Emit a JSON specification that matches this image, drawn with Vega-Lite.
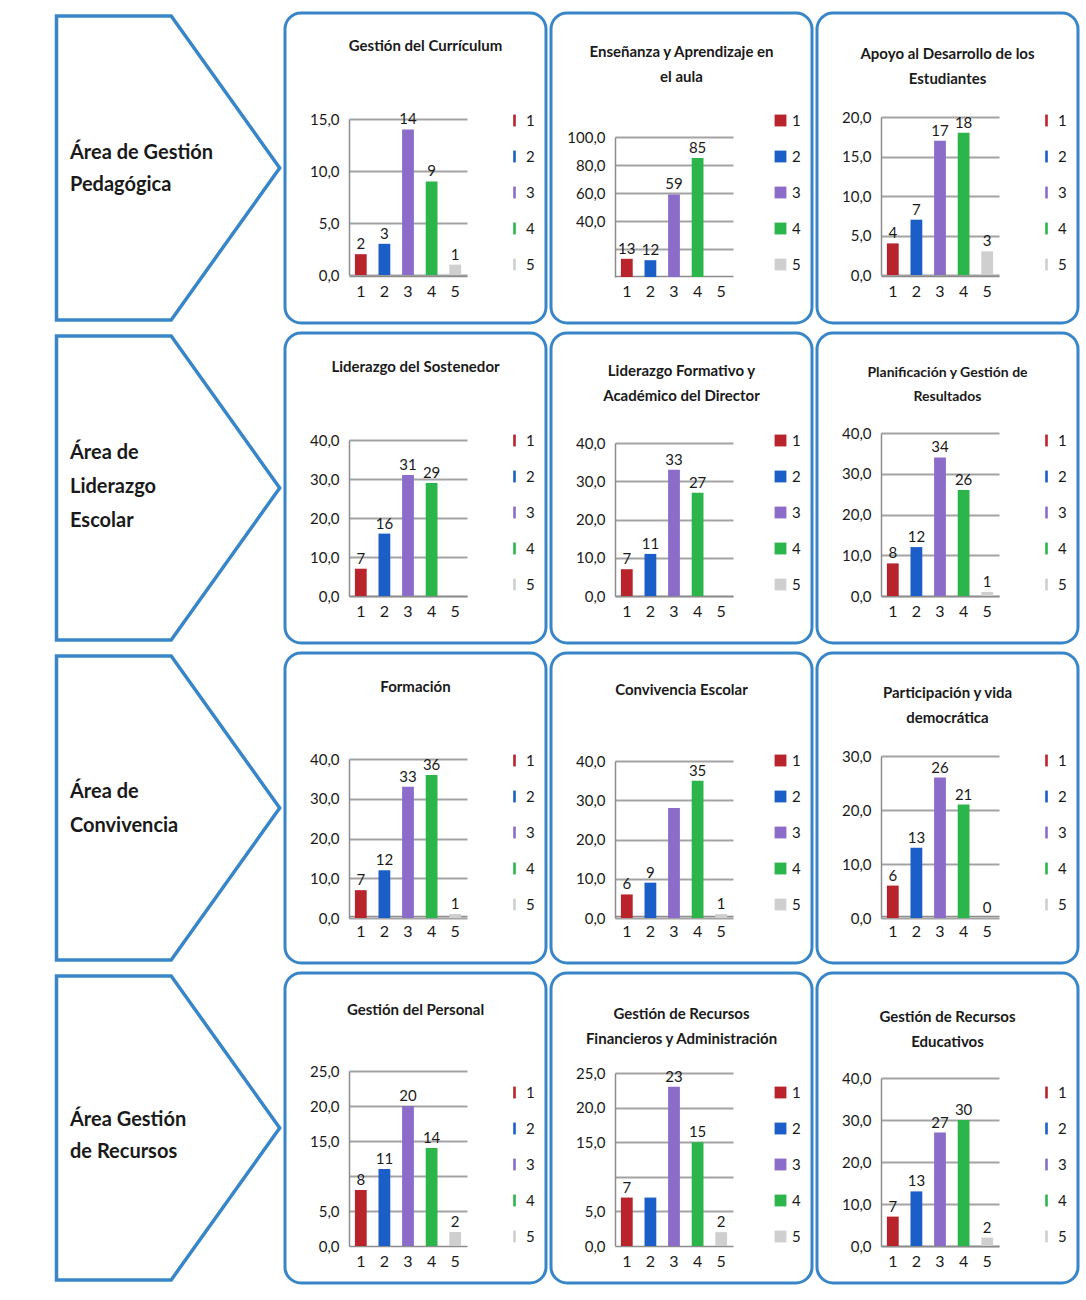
{
  "$schema": "https://vega.github.io/schema/vega-lite/v6.json",
  "background": "white",
  "padding": {"top": 9, "left": 49, "right": 0, "bottom": 0},
  "datasets": {
    "areas": [
      {"row": 1, "area": "Área de Gestión\nPedagógica"},
      {"row": 2, "area": "Área de\nLiderazgo\nEscolar"},
      {"row": 3, "area": "Área de\nConvivencia"},
      {"row": 4, "area": "Área Gestión\nde Recursos"}
    ],
    "scores": [
      {"panel": "Gestión del Currículum", "cat": "1", "value": 2, "label": "2"},
      {"panel": "Gestión del Currículum", "cat": "2", "value": 3, "label": "3"},
      {"panel": "Gestión del Currículum", "cat": "3", "value": 14, "label": "14"},
      {"panel": "Gestión del Currículum", "cat": "4", "value": 9, "label": "9"},
      {"panel": "Gestión del Currículum", "cat": "5", "value": 1, "label": "1"},
      {"panel": "Enseñanza y Aprendizaje en el aula", "cat": "1", "value": 13, "label": "13"},
      {"panel": "Enseñanza y Aprendizaje en el aula", "cat": "2", "value": 12, "label": "12"},
      {"panel": "Enseñanza y Aprendizaje en el aula", "cat": "3", "value": 59, "label": "59"},
      {"panel": "Enseñanza y Aprendizaje en el aula", "cat": "4", "value": 85, "label": "85"},
      {"panel": "Enseñanza y Aprendizaje en el aula", "cat": "5", "value": 0, "label": ""},
      {"panel": "Apoyo al Desarrollo de los Estudiantes", "cat": "1", "value": 4, "label": "4"},
      {"panel": "Apoyo al Desarrollo de los Estudiantes", "cat": "2", "value": 7, "label": "7"},
      {"panel": "Apoyo al Desarrollo de los Estudiantes", "cat": "3", "value": 17, "label": "17"},
      {"panel": "Apoyo al Desarrollo de los Estudiantes", "cat": "4", "value": 18, "label": "18"},
      {"panel": "Apoyo al Desarrollo de los Estudiantes", "cat": "5", "value": 3, "label": "3"},
      {"panel": "Liderazgo del Sostenedor", "cat": "1", "value": 7, "label": "7"},
      {"panel": "Liderazgo del Sostenedor", "cat": "2", "value": 16, "label": "16"},
      {"panel": "Liderazgo del Sostenedor", "cat": "3", "value": 31, "label": "31"},
      {"panel": "Liderazgo del Sostenedor", "cat": "4", "value": 29, "label": "29"},
      {"panel": "Liderazgo del Sostenedor", "cat": "5", "value": 0, "label": ""},
      {"panel": "Liderazgo Formativo y Académico del Director", "cat": "1", "value": 7, "label": "7"},
      {"panel": "Liderazgo Formativo y Académico del Director", "cat": "2", "value": 11, "label": "11"},
      {"panel": "Liderazgo Formativo y Académico del Director", "cat": "3", "value": 33, "label": "33"},
      {"panel": "Liderazgo Formativo y Académico del Director", "cat": "4", "value": 27, "label": "27"},
      {"panel": "Liderazgo Formativo y Académico del Director", "cat": "5", "value": 0, "label": ""},
      {"panel": "Planificación y Gestión de Resultados", "cat": "1", "value": 8, "label": "8"},
      {"panel": "Planificación y Gestión de Resultados", "cat": "2", "value": 12, "label": "12"},
      {"panel": "Planificación y Gestión de Resultados", "cat": "3", "value": 34, "label": "34"},
      {"panel": "Planificación y Gestión de Resultados", "cat": "4", "value": 26, "label": "26"},
      {"panel": "Planificación y Gestión de Resultados", "cat": "5", "value": 1, "label": "1"},
      {"panel": "Formación", "cat": "1", "value": 7, "label": "7"},
      {"panel": "Formación", "cat": "2", "value": 12, "label": "12"},
      {"panel": "Formación", "cat": "3", "value": 33, "label": "33"},
      {"panel": "Formación", "cat": "4", "value": 36, "label": "36"},
      {"panel": "Formación", "cat": "5", "value": 1, "label": "1"},
      {"panel": "Convivencia Escolar", "cat": "1", "value": 6, "label": "6"},
      {"panel": "Convivencia Escolar", "cat": "2", "value": 9, "label": "9"},
      {"panel": "Convivencia Escolar", "cat": "3", "value": 28, "label": ""},
      {"panel": "Convivencia Escolar", "cat": "4", "value": 35, "label": "35"},
      {"panel": "Convivencia Escolar", "cat": "5", "value": 1, "label": "1"},
      {"panel": "Participación y vida democrática", "cat": "1", "value": 6, "label": "6"},
      {"panel": "Participación y vida democrática", "cat": "2", "value": 13, "label": "13"},
      {"panel": "Participación y vida democrática", "cat": "3", "value": 26, "label": "26"},
      {"panel": "Participación y vida democrática", "cat": "4", "value": 21, "label": "21"},
      {"panel": "Participación y vida democrática", "cat": "5", "value": 0, "label": "0"},
      {"panel": "Gestión del Personal", "cat": "1", "value": 8, "label": "8"},
      {"panel": "Gestión del Personal", "cat": "2", "value": 11, "label": "11"},
      {"panel": "Gestión del Personal", "cat": "3", "value": 20, "label": "20"},
      {"panel": "Gestión del Personal", "cat": "4", "value": 14, "label": "14"},
      {"panel": "Gestión del Personal", "cat": "5", "value": 2, "label": "2"},
      {"panel": "Gestión de Recursos Financieros y Administración", "cat": "1", "value": 7, "label": "7"},
      {"panel": "Gestión de Recursos Financieros y Administración", "cat": "2", "value": 7, "label": ""},
      {"panel": "Gestión de Recursos Financieros y Administración", "cat": "3", "value": 23, "label": "23"},
      {"panel": "Gestión de Recursos Financieros y Administración", "cat": "4", "value": 15, "label": "15"},
      {"panel": "Gestión de Recursos Financieros y Administración", "cat": "5", "value": 2, "label": "2"},
      {"panel": "Gestión de Recursos Educativos", "cat": "1", "value": 7, "label": "7"},
      {"panel": "Gestión de Recursos Educativos", "cat": "2", "value": 13, "label": "13"},
      {"panel": "Gestión de Recursos Educativos", "cat": "3", "value": 27, "label": "27"},
      {"panel": "Gestión de Recursos Educativos", "cat": "4", "value": 30, "label": "30"},
      {"panel": "Gestión de Recursos Educativos", "cat": "5", "value": 2, "label": "2"}
    ]
  },
  "spacing": 2,
  "vconcat": [
    {
      "bounds": "flush",
      "spacing": 5,
      "resolve": {"scale": {"color": "independent"}},
      "hconcat": [
        {
          "width": 230, "height": 310,
          "data": {"name": "areas"},
          "transform": [{"filter": "datum.row === 1"}],
          "layer": [
            {"mark": {"type": "point", "shape": "M-0.70,-0.98L0.04,-0.98L0.74,0L0.04,0.98L-0.70,0.98Z", "size": 96100, "filled": true, "fill": "white", "stroke": "#3886c7", "strokeWidth": 3.5, "opacity": 1}},
            {"mark": {"type": "text", "align": "left", "baseline": "middle", "dx": -95, "dy": -15, "fontSize": 20, "fontWeight": "bold", "lineBreak": "\n", "lineHeight": 32, "color": "#1a1a1a"}, "encoding": {"text": {"field": "area"}}}
          ]
        },
        {
          "width": 261, "height": 310,
          "view": {"stroke": "#3886c7", "strokeWidth": 3, "cornerRadius": 16},
          "title": {"text": "Gestión del Currículum", "dy": 45, "dx": 10},
          "data": {"name": "scores"},
          "transform": [{"filter": "datum.panel === 'Gestión del Currículum'"}],
          "encoding": {"x": {"field": "cat", "type": "ordinal", "scale": {"range": [64, 182], "paddingInner": 0.5, "paddingOuter": 0.25}, "axis": {"title": null}}},
          "layer": [
            {"mark": "bar", "encoding": {
              "y": {"field": "value", "type": "quantitative", "scale": {"domain": [0, 15], "range": [262, 106], "nice": false}, "axis": {"title": null, "grid": false, "values": [0, 5, 10, 15]}},
              "color": {"field": "cat", "type": "nominal", "legend": {"title": null}}}},
            {"mark": {"type": "text", "dy": -10, "fontSize": 15}, "encoding": {
              "y": {"field": "value", "type": "quantitative", "axis": {"title": null, "grid": true, "labels": false, "domain": false, "orient": "left", "offset": 0, "values": [0, 5, 10, 15]}},
              "text": {"field": "label"}}}
          ],
          "resolve": {"axis": {"y": "independent"}}
        },
        {
          "width": 261, "height": 310,
          "view": {"stroke": "#3886c7", "strokeWidth": 3, "cornerRadius": 16},
          "title": {"text": ["Enseñanza y Aprendizaje en", "el aula"], "dy": 76},
          "data": {"name": "scores"},
          "transform": [{"filter": "datum.panel === 'Enseñanza y Aprendizaje en el aula'"}],
          "encoding": {"x": {"field": "cat", "type": "ordinal", "scale": {"range": [64, 182], "paddingInner": 0.5, "paddingOuter": 0.25}, "axis": {"title": null}}},
          "layer": [
            {"mark": "bar", "encoding": {
              "y": {"field": "value", "type": "quantitative", "scale": {"domain": [0, 100], "range": [264, 124], "nice": false}, "axis": {"title": null, "grid": false, "values": [40, 60, 80, 100]}},
              "color": {"field": "cat", "type": "nominal", "legend": {"title": null, "symbolType": "square"}}}},
            {"mark": {"type": "text", "dy": -10, "fontSize": 15}, "encoding": {
              "y": {"field": "value", "type": "quantitative", "axis": {"title": null, "grid": true, "labels": false, "domain": false, "orient": "left", "offset": 0, "values": [20, 40, 60, 80, 100]}},
              "text": {"field": "label"}}}
          ],
          "resolve": {"axis": {"y": "independent"}}
        },
        {
          "width": 261, "height": 310,
          "view": {"stroke": "#3886c7", "strokeWidth": 3, "cornerRadius": 16},
          "title": {"text": ["Apoyo al Desarrollo de los", "Estudiantes"], "dy": 78},
          "data": {"name": "scores"},
          "transform": [{"filter": "datum.panel === 'Apoyo al Desarrollo de los Estudiantes'"}],
          "encoding": {"x": {"field": "cat", "type": "ordinal", "scale": {"range": [64, 182], "paddingInner": 0.5, "paddingOuter": 0.25}, "axis": {"title": null}}},
          "layer": [
            {"mark": "bar", "encoding": {
              "y": {"field": "value", "type": "quantitative", "scale": {"domain": [0, 20], "range": [262, 104], "nice": false}, "axis": {"title": null, "grid": false, "values": [0, 5, 10, 15, 20]}},
              "color": {"field": "cat", "type": "nominal", "legend": {"title": null}}}},
            {"mark": {"type": "text", "dy": -10, "fontSize": 15}, "encoding": {
              "y": {"field": "value", "type": "quantitative", "axis": {"title": null, "grid": true, "labels": false, "domain": false, "orient": "left", "offset": 0, "values": [0, 5, 10, 15, 20]}},
              "text": {"field": "label"}}}
          ],
          "resolve": {"axis": {"y": "independent"}}
        }
      ]
    },
    {
      "bounds": "flush",
      "spacing": 5,
      "resolve": {"scale": {"color": "independent"}},
      "hconcat": [
        {
          "width": 230, "height": 310,
          "data": {"name": "areas"},
          "transform": [{"filter": "datum.row === 2"}],
          "layer": [
            {"mark": {"type": "point", "shape": "M-0.70,-0.98L0.04,-0.98L0.74,0L0.04,0.98L-0.70,0.98Z", "size": 96100, "filled": true, "fill": "white", "stroke": "#3886c7", "strokeWidth": 3.5, "opacity": 1}},
            {"mark": {"type": "text", "align": "left", "baseline": "middle", "dx": -95, "dy": -35, "fontSize": 20, "fontWeight": "bold", "lineBreak": "\n", "lineHeight": 34, "color": "#1a1a1a"}, "encoding": {"text": {"field": "area"}}}
          ]
        },
        {
          "width": 261, "height": 310,
          "view": {"stroke": "#3886c7", "strokeWidth": 3, "cornerRadius": 16},
          "title": {"text": "Liderazgo del Sostenedor", "dy": 46},
          "data": {"name": "scores"},
          "transform": [{"filter": "datum.panel === 'Liderazgo del Sostenedor'"}],
          "encoding": {"x": {"field": "cat", "type": "ordinal", "scale": {"range": [64, 182], "paddingInner": 0.5, "paddingOuter": 0.25}, "axis": {"title": null}}},
          "layer": [
            {"mark": "bar", "encoding": {
              "y": {"field": "value", "type": "quantitative", "scale": {"domain": [0, 40], "range": [263, 107], "nice": false}, "axis": {"title": null, "grid": false, "values": [0, 10, 20, 30, 40]}},
              "color": {"field": "cat", "type": "nominal", "legend": {"title": null}}}},
            {"mark": {"type": "text", "dy": -10, "fontSize": 15}, "encoding": {
              "y": {"field": "value", "type": "quantitative", "axis": {"title": null, "grid": true, "labels": false, "domain": false, "orient": "left", "offset": 0, "values": [0, 10, 20, 30, 40]}},
              "text": {"field": "label"}}}
          ],
          "resolve": {"axis": {"y": "independent"}}
        },
        {
          "width": 261, "height": 310,
          "view": {"stroke": "#3886c7", "strokeWidth": 3, "cornerRadius": 16},
          "title": {"text": ["Liderazgo Formativo y", "Académico del Director"], "dy": 75},
          "data": {"name": "scores"},
          "transform": [{"filter": "datum.panel === 'Liderazgo Formativo y Académico del Director'"}],
          "encoding": {"x": {"field": "cat", "type": "ordinal", "scale": {"range": [64, 182], "paddingInner": 0.5, "paddingOuter": 0.25}, "axis": {"title": null}}},
          "layer": [
            {"mark": "bar", "encoding": {
              "y": {"field": "value", "type": "quantitative", "scale": {"domain": [0, 40], "range": [263, 110], "nice": false}, "axis": {"title": null, "grid": false, "values": [0, 10, 20, 30, 40]}},
              "color": {"field": "cat", "type": "nominal", "legend": {"title": null, "symbolType": "square"}}}},
            {"mark": {"type": "text", "dy": -10, "fontSize": 15}, "encoding": {
              "y": {"field": "value", "type": "quantitative", "axis": {"title": null, "grid": true, "labels": false, "domain": false, "orient": "left", "offset": 0, "values": [0, 10, 20, 30, 40]}},
              "text": {"field": "label"}}}
          ],
          "resolve": {"axis": {"y": "independent"}}
        },
        {
          "width": 261, "height": 310,
          "view": {"stroke": "#3886c7", "strokeWidth": 3, "cornerRadius": 16},
          "title": {"text": ["Planificación y Gestión de", "Resultados"], "dy": 75, "fontSize": 14, "lineHeight": 24},
          "data": {"name": "scores"},
          "transform": [{"filter": "datum.panel === 'Planificación y Gestión de Resultados'"}],
          "encoding": {"x": {"field": "cat", "type": "ordinal", "scale": {"range": [64, 182], "paddingInner": 0.5, "paddingOuter": 0.25}, "axis": {"title": null}}},
          "layer": [
            {"mark": "bar", "encoding": {
              "y": {"field": "value", "type": "quantitative", "scale": {"domain": [0, 40], "range": [263, 100], "nice": false}, "axis": {"title": null, "grid": false, "values": [0, 10, 20, 30, 40]}},
              "color": {"field": "cat", "type": "nominal", "legend": {"title": null}}}},
            {"mark": {"type": "text", "dy": -10, "fontSize": 15}, "encoding": {
              "y": {"field": "value", "type": "quantitative", "axis": {"title": null, "grid": true, "labels": false, "domain": false, "orient": "left", "offset": 0, "values": [0, 10, 20, 30, 40]}},
              "text": {"field": "label"}}}
          ],
          "resolve": {"axis": {"y": "independent"}}
        }
      ]
    },
    {
      "bounds": "flush",
      "spacing": 5,
      "resolve": {"scale": {"color": "independent"}},
      "hconcat": [
        {
          "width": 230, "height": 310,
          "data": {"name": "areas"},
          "transform": [{"filter": "datum.row === 3"}],
          "layer": [
            {"mark": {"type": "point", "shape": "M-0.70,-0.98L0.04,-0.98L0.74,0L0.04,0.98L-0.70,0.98Z", "size": 96100, "filled": true, "fill": "white", "stroke": "#3886c7", "strokeWidth": 3.5, "opacity": 1}},
            {"mark": {"type": "text", "align": "left", "baseline": "middle", "dx": -95, "dy": -16, "fontSize": 20, "fontWeight": "bold", "lineBreak": "\n", "lineHeight": 34, "color": "#1a1a1a"}, "encoding": {"text": {"field": "area"}}}
          ]
        },
        {
          "width": 261, "height": 310,
          "view": {"stroke": "#3886c7", "strokeWidth": 3, "cornerRadius": 16},
          "title": {"text": "Formación", "dy": 46},
          "data": {"name": "scores"},
          "transform": [{"filter": "datum.panel === 'Formación'"}],
          "encoding": {"x": {"field": "cat", "type": "ordinal", "scale": {"range": [64, 182], "paddingInner": 0.5, "paddingOuter": 0.25}, "axis": {"title": null}}},
          "layer": [
            {"mark": "bar", "encoding": {
              "y": {"field": "value", "type": "quantitative", "scale": {"domain": [0, 40], "range": [265, 106], "nice": false}, "axis": {"title": null, "grid": false, "values": [0, 10, 20, 30, 40]}},
              "color": {"field": "cat", "type": "nominal", "legend": {"title": null}}}},
            {"mark": {"type": "text", "dy": -10, "fontSize": 15}, "encoding": {
              "y": {"field": "value", "type": "quantitative", "axis": {"title": null, "grid": true, "labels": false, "domain": false, "orient": "left", "offset": 0, "values": [0, 10, 20, 30, 40]}},
              "text": {"field": "label"}}}
          ],
          "resolve": {"axis": {"y": "independent"}}
        },
        {
          "width": 261, "height": 310,
          "view": {"stroke": "#3886c7", "strokeWidth": 3, "cornerRadius": 16},
          "title": {"text": "Convivencia Escolar", "dy": 49},
          "data": {"name": "scores"},
          "transform": [{"filter": "datum.panel === 'Convivencia Escolar'"}],
          "encoding": {"x": {"field": "cat", "type": "ordinal", "scale": {"range": [64, 182], "paddingInner": 0.5, "paddingOuter": 0.25}, "axis": {"title": null}}},
          "layer": [
            {"mark": "bar", "encoding": {
              "y": {"field": "value", "type": "quantitative", "scale": {"domain": [0, 40], "range": [265, 108], "nice": false}, "axis": {"title": null, "grid": false, "values": [0, 10, 20, 30, 40]}},
              "color": {"field": "cat", "type": "nominal", "legend": {"title": null, "symbolType": "square"}}}},
            {"mark": {"type": "text", "dy": -10, "fontSize": 15}, "encoding": {
              "y": {"field": "value", "type": "quantitative", "axis": {"title": null, "grid": true, "labels": false, "domain": false, "orient": "left", "offset": 0, "values": [0, 10, 20, 30, 40]}},
              "text": {"field": "label"}}}
          ],
          "resolve": {"axis": {"y": "independent"}}
        },
        {
          "width": 261, "height": 310,
          "view": {"stroke": "#3886c7", "strokeWidth": 3, "cornerRadius": 16},
          "title": {"text": ["Participación y vida", "democrática"], "dy": 77},
          "data": {"name": "scores"},
          "transform": [{"filter": "datum.panel === 'Participación y vida democrática'"}],
          "encoding": {"x": {"field": "cat", "type": "ordinal", "scale": {"range": [64, 182], "paddingInner": 0.5, "paddingOuter": 0.25}, "axis": {"title": null}}},
          "layer": [
            {"mark": "bar", "encoding": {
              "y": {"field": "value", "type": "quantitative", "scale": {"domain": [0, 30], "range": [265, 103], "nice": false}, "axis": {"title": null, "grid": false, "values": [0, 10, 20, 30]}},
              "color": {"field": "cat", "type": "nominal", "legend": {"title": null}}}},
            {"mark": {"type": "text", "dy": -10, "fontSize": 15}, "encoding": {
              "y": {"field": "value", "type": "quantitative", "axis": {"title": null, "grid": true, "labels": false, "domain": false, "orient": "left", "offset": 0, "values": [0, 10, 20, 30]}},
              "text": {"field": "label"}}}
          ],
          "resolve": {"axis": {"y": "independent"}}
        }
      ]
    },
    {
      "bounds": "flush",
      "spacing": 5,
      "resolve": {"scale": {"color": "independent"}},
      "hconcat": [
        {
          "width": 230, "height": 310,
          "data": {"name": "areas"},
          "transform": [{"filter": "datum.row === 4"}],
          "layer": [
            {"mark": {"type": "point", "shape": "M-0.70,-0.98L0.04,-0.98L0.74,0L0.04,0.98L-0.70,0.98Z", "size": 96100, "filled": true, "fill": "white", "stroke": "#3886c7", "strokeWidth": 3.5, "opacity": 1}},
            {"mark": {"type": "text", "align": "left", "baseline": "middle", "dx": -95, "dy": -8, "fontSize": 20, "fontWeight": "bold", "lineBreak": "\n", "lineHeight": 32, "color": "#1a1a1a"}, "encoding": {"text": {"field": "area"}}}
          ]
        },
        {
          "width": 261, "height": 310,
          "view": {"stroke": "#3886c7", "strokeWidth": 3, "cornerRadius": 16},
          "title": {"text": "Gestión del Personal", "dy": 49},
          "data": {"name": "scores"},
          "transform": [{"filter": "datum.panel === 'Gestión del Personal'"}],
          "encoding": {"x": {"field": "cat", "type": "ordinal", "scale": {"range": [64, 182], "paddingInner": 0.5, "paddingOuter": 0.25}, "axis": {"title": null, "offset": -37}}},
          "layer": [
            {"mark": "bar", "encoding": {
              "y": {"field": "value", "type": "quantitative", "scale": {"domain": [0, 25], "range": [273, 98], "nice": false}, "axis": {"title": null, "grid": false, "values": [0, 5, 15, 20, 25]}},
              "color": {"field": "cat", "type": "nominal", "legend": {"title": null, "legendY": 112}}}},
            {"mark": {"type": "text", "dy": -10, "fontSize": 15}, "encoding": {
              "y": {"field": "value", "type": "quantitative", "axis": {"title": null, "grid": true, "labels": false, "domain": false, "orient": "left", "offset": 0, "values": [5, 10, 15, 20, 25]}},
              "text": {"field": "label"}}}
          ],
          "resolve": {"axis": {"y": "independent"}}
        },
        {
          "width": 261, "height": 310,
          "view": {"stroke": "#3886c7", "strokeWidth": 3, "cornerRadius": 16},
          "title": {"text": ["Gestión de Recursos", "Financieros y Administración"], "dy": 78},
          "data": {"name": "scores"},
          "transform": [{"filter": "datum.panel === 'Gestión de Recursos Financieros y Administración'"}],
          "encoding": {"x": {"field": "cat", "type": "ordinal", "scale": {"range": [64, 182], "paddingInner": 0.5, "paddingOuter": 0.25}, "axis": {"title": null, "offset": -37}}},
          "layer": [
            {"mark": "bar", "encoding": {
              "y": {"field": "value", "type": "quantitative", "scale": {"domain": [0, 25], "range": [273, 100], "nice": false}, "axis": {"title": null, "grid": false, "values": [0, 5, 15, 20, 25]}},
              "color": {"field": "cat", "type": "nominal", "legend": {"title": null, "symbolType": "square", "legendY": 112}}}},
            {"mark": {"type": "text", "dy": -10, "fontSize": 15}, "encoding": {
              "y": {"field": "value", "type": "quantitative", "axis": {"title": null, "grid": true, "labels": false, "domain": false, "orient": "left", "offset": 0, "values": [5, 10, 15, 20, 25]}},
              "text": {"field": "label"}}}
          ],
          "resolve": {"axis": {"y": "independent"}}
        },
        {
          "width": 261, "height": 310,
          "view": {"stroke": "#3886c7", "strokeWidth": 3, "cornerRadius": 16},
          "title": {"text": ["Gestión de Recursos", "Educativos"], "dy": 81},
          "data": {"name": "scores"},
          "transform": [{"filter": "datum.panel === 'Gestión de Recursos Educativos'"}],
          "encoding": {"x": {"field": "cat", "type": "ordinal", "scale": {"range": [64, 182], "paddingInner": 0.5, "paddingOuter": 0.25}, "axis": {"title": null, "offset": -37}}},
          "layer": [
            {"mark": "bar", "encoding": {
              "y": {"field": "value", "type": "quantitative", "scale": {"domain": [0, 40], "range": [273, 105], "nice": false}, "axis": {"title": null, "grid": false, "values": [0, 10, 20, 30, 40]}},
              "color": {"field": "cat", "type": "nominal", "legend": {"title": null, "legendY": 112}}}},
            {"mark": {"type": "text", "dy": -10, "fontSize": 15}, "encoding": {
              "y": {"field": "value", "type": "quantitative", "axis": {"title": null, "grid": true, "labels": false, "domain": false, "orient": "left", "offset": 0, "values": [0, 10, 20, 30, 40]}},
              "text": {"field": "label"}}}
          ],
          "resolve": {"axis": {"y": "independent"}}
        }
      ]
    }
  ],
  "config": {
    "font": "Lato, Liberation Sans, sans-serif",
    "view": {"stroke": null},
    "range": {"category": ["#b8232c", "#1b5ec8", "#8b6cc9", "#2cb54a", "#cfcfcf"]},
    "text": {"font": "Lato, Liberation Sans, sans-serif", "color": "#1a1a1a"},
    "axis": {
      "labelFont": "Lato, Liberation Sans, sans-serif",
      "labelFontSize": 15,
      "labelColor": "#1a1a1a",
      "domainColor": "#8c8c8c",
      "domainWidth": 1.5,
      "gridColor": "#a3a3a3",
      "gridWidth": 1.8,
      "ticks": false
    },
    "axisX": {"offset": -47, "labelAngle": 0, "labelPadding": 7, "labelFontSize": 16},
    "axisY": {"offset": -64, "labelPadding": 10, "labelExpr": "replace(format(datum.value, '.1f'), '.', ',')"},
    "legend": {
      "orient": "none",
      "legendX": 222,
      "legendY": 100,
      "rowPadding": 20,
      "labelFont": "Lato, Liberation Sans, sans-serif",
      "labelFontSize": 15,
      "labelColor": "#1a1a1a",
      "labelOffset": 4,
      "symbolType": "M-0.22,-1L0.22,-1L0.22,1L-0.22,1Z",
      "symbolSize": 140,
      "symbolStrokeWidth": 0
    },
    "title": {
      "font": "Lato, Liberation Sans, sans-serif",
      "fontSize": 15,
      "fontWeight": "bold",
      "color": "#1a1a1a",
      "anchor": "middle",
      "baseline": "top",
      "offset": 0,
      "lineHeight": 25
    }
  }
}
